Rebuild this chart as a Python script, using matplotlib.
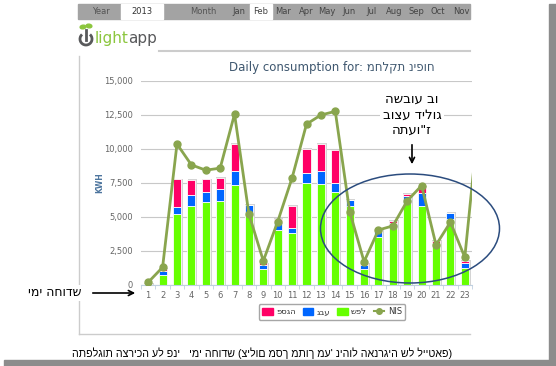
import matplotlib.pyplot as plt
from matplotlib.patches import Ellipse, Rectangle, FancyArrowPatch, Arc, Patch
from matplotlib.lines import Line2D
import numpy as np

plt.rcParams['font.family'] = ['DejaVu Sans']

# daily consumption per tariff (kWh)
days = list(range(1, 24))
shefel = [100, 720, 5200, 5800, 6130, 6200, 7350, 5300, 1200, 4040, 3850, 7480,
          7400, 6820, 5810, 1180, 3500, 4240, 6000, 5810, 3050, 4830, 1225]
geva = [0, 340, 550, 780, 730, 830, 1050, 580, 270, 620, 360, 730,
        1000, 700, 440, 270, 490, 340, 540, 980, 60, 440, 365]
pisga = [0, 100, 2000, 1130, 890, 860, 1950, 0, 120, 170, 1600, 1790,
         1950, 2360, 0, 140, 150, 150, 150, 440, 150, 0, 175]
nis_days = list(range(1, 25))
nis = [200, 1300, 10350, 8820, 8430, 8580, 12550, 5200, 1770, 4660, 7870, 11810,
       12480, 12750, 5390, 1715, 4040, 4340, 6180, 7300, 2940, 4610, 2035, 12500]
yticks = [0, 2500, 5000, 7500, 10000, 12500, 15000]
months = ['Jan', 'Feb', 'Mar', 'Apr', 'May', 'Jun', 'Jul', 'Aug', 'Sep', 'Oct', 'Nov']
month_x = [239, 261, 283, 306, 327, 349, 372, 394, 416, 438, 461]

W, H = 556, 366
fig = plt.figure(figsize=(W / 100, H / 100), dpi=100)


def fx(x):
    return x / W


def fy(y):
    return 1 - y / H


ax = fig.add_axes([fx(141), fy(285), fx(472) - fx(141), fy(80.7) - fy(285)])

x = np.array(days)
s = np.array(shefel)
g = np.array(geva)
p = np.array(pisga)
tot = s + g + p
bw = 0.56
ax.bar(x + 0.07, tot + 60, bw + 0.1, color='#d4d4d4', zorder=1)
ax.bar(x, s, bw, color='#66ff00', edgecolor='white', linewidth=0.6, zorder=2)
ax.bar(x, g, bw, bottom=s, color='#0066ff', edgecolor='white', linewidth=0.6, zorder=2)
ax.bar(x, p, bw, bottom=s + g, color='#ff0066', edgecolor='white', linewidth=0.6, zorder=2)
ax.plot(nis_days, nis, color='#89a54e', lw=2, marker='o', ms=5, zorder=4)

ax.set_xlim(0.5, 23.5)
ax.set_ylim(0, 15000)
ax.set_yticks(yticks)
ax.set_yticklabels(['{:,}'.format(v) for v in yticks])
ax.set_xticks(days)
ax.set_xticks(np.arange(0.5, 24, 1), minor=True)
ax.tick_params(axis='y', length=0, pad=6, labelsize=6, labelcolor='#666666')
ax.tick_params(axis='x', which='major', length=0, pad=4, labelsize=6, labelcolor='#666666')
ax.tick_params(axis='x', which='minor', length=3, color='#c0d0e0')
ax.grid(axis='y', color='#c8c8c8', lw=0.8)
ax.set_axisbelow(True)
for side in ['top', 'right', 'left']:
    ax.spines[side].set_visible(False)
ax.spines['bottom'].set_color('#c0d0e0')

fig.text(fx(100), fy(183), 'KWH', rotation=90, color='#4d759e', fontsize=5.5,
         fontweight='bold', ha='center', va='center')
fig.text(fx(332), fy(67), 'Daily consumption for: מחלקת ניפוח',
         fontsize=8.5, color='#3e576f', ha='center', va='center')

handles = [Patch(color='#ff0066'), Patch(color='#0066ff'), Patch(color='#66ff00'),
           Line2D([], [], color='#89a54e', lw=1.5, marker='o', ms=4)]
labels = ['פסגה', 'גבע', 'שפל', 'NIS']
fig.legend(handles, labels, loc='center', bbox_to_anchor=(fx(332), fy(312)), ncol=4,
           fontsize=6, frameon=True, edgecolor='#909090', fancybox=True,
           handlelength=1.3, handleheight=0.9, columnspacing=0.8, handletextpad=0.4,
           borderpad=0.4, labelcolor='#333333')

# card frame of the screenshot
fig.add_artist(Rectangle((fx(78), fy(19.4)), (470 - 78) / W, 15.4 / H, transform=fig.transFigure,
                         color='#a3a3a3'))
fig.add_artist(Rectangle((fx(121), fy(19.4)), 42 / W, 15.4 / H, transform=fig.transFigure,
                         color='white'))
fig.add_artist(Rectangle((fx(250), fy(19.4)), 22 / W, 15.4 / H, transform=fig.transFigure,
                         color='white'))
fig.text(fx(101), fy(11.5), 'Year', fontsize=6, color='#555555', ha='center', va='center')
fig.text(fx(142), fy(11.5), '2013', fontsize=6, color='#333333', ha='center', va='center')
fig.text(fx(203), fy(11.5), 'Month', fontsize=6, color='#555555', ha='center', va='center')
for m, mx in zip(months, month_x):
    fig.text(fx(mx), fy(11.5), m, fontsize=6, color='#444444', ha='center', va='center')

fig.add_artist(Arc((fx(86), fy(39)), 12 / W, 12 / H, theta1=120, theta2=420,
                   transform=fig.transFigure, color='#58595b', lw=2))
fig.add_artist(Line2D([fx(86), fx(86)], [fy(40), fy(30)], transform=fig.transFigure,
                      color='#58595b', lw=2))
fig.add_artist(Ellipse((fx(83), fy(27)), 6 / W, 3.5 / H, angle=40, transform=fig.transFigure,
                       color='#8cc63e'))
fig.add_artist(Ellipse((fx(89), fy(26)), 6 / W, 3.5 / H, angle=-40, transform=fig.transFigure,
                       color='#8cc63e'))
fig.text(fx(95), fy(39), 'light', fontsize=11, color='#8cc63e', ha='left', va='center')
fig.text(fx(128), fy(39), 'app', fontsize=11, color='#58595b', ha='left', va='center')

fig.add_artist(Line2D([fx(159), fx(470)], [fy(51), fy(51)], transform=fig.transFigure,
                      color='#cccccc', lw=1.5))
fig.add_artist(Line2D([fx(79), fx(79)], [fy(56), fy(334)], transform=fig.transFigure,
                      color='#cccccc', lw=1))
fig.add_artist(Line2D([fx(79), fx(470)], [fy(334), fy(334)], transform=fig.transFigure,
                      color='#cccccc', lw=1))

fig.add_artist(Rectangle((fx(549), 0), 7 / W, fy(4), transform=fig.transFigure, color='#8c8c8c'))
fig.add_artist(Rectangle((fx(4), 0), (549 - 4) / W, 6 / H, transform=fig.transFigure,
                         color='#8c8c8c'))

# annotations
fig.text(fx(412), fy(115), 'השבוע בו\nבוצע דילוג\nהתעו"ז',
         ha='center', va='center', fontsize=9.5, linespacing=1.25,
         bbox=dict(facecolor='white', edgecolor='none', pad=2))
fig.add_artist(FancyArrowPatch((fx(412), fy(142)), (fx(412), fy(167)), transform=fig.transFigure,
                               arrowstyle='->', mutation_scale=9, lw=1.2, color='black'))
fig.text(fx(55), fy(293), 'ימי החודש', ha='center', va='center', fontsize=9,
         bbox=dict(facecolor='white', edgecolor='none', pad=1))
fig.add_artist(FancyArrowPatch((fx(90), fy(293)), (fx(138), fy(293)), transform=fig.transFigure,
                               arrowstyle='->', mutation_scale=9, lw=1.2, color='black'))
fig.add_artist(Ellipse((fx(410), fy(228.5)), 179 / W, 109 / H, transform=fig.transFigure,
                       fill=False, edgecolor='#2b4c7e', lw=1.1))

caption = "התפלגות הצריכה על פני   ימי החודש (צילום מסך מתוך מע' ניהול האנרגיה של לייטאפ)"
fig.text(fx(262), fy(353), caption, ha='center', va='center', fontsize=7.7,
         family=['Liberation Sans', 'DejaVu Sans'])

fig.savefig('out.png', dpi=100)
